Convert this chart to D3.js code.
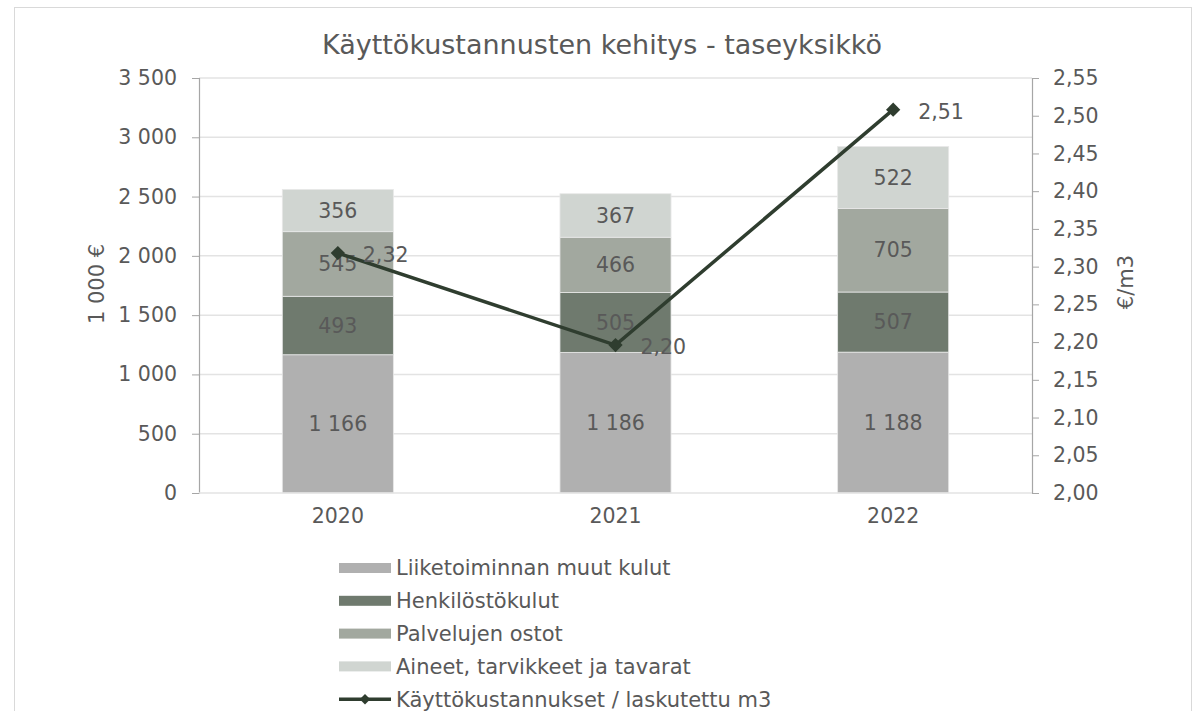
<!DOCTYPE html>
<html><head><meta charset="utf-8">
<script src="https://cdn.jsdelivr.net/npm/d3@7"></script>
<style>body{margin:0;background:#fff;} text{font-family:"DejaVu Sans",Verdana,sans-serif;fill:#595959;}</style>
</head><body>
<svg id="c" width="1201" height="711"></svg>
<script>
const years = ["2020","2021","2022"];
const seriesNames = ["Liiketoiminnan muut kulut","Henkilöstökulut","Palvelujen ostot","Aineet, tarvikkeet ja tavarat"];
const muutKulut = [1166,1186,1188];
const henkilosto = [493,505,507];
const palvelut = [545,466,705];
const aineet = [356,367,522];
const perM3 = [2.318,2.196,2.508];
const perM3Labels = ["2,32","2,20","2,51"];
const lineName = "Käyttökustannukset / laskutettu m3";
const leftTicks = [0,500,1000,1500,2000,2500,3000,3500];
const rightTicks = [2.00,2.05,2.10,2.15,2.20,2.25,2.30,2.35,2.40,2.45,2.50,2.55];
const colors = ["#b0b0b0","#6f7a6e","#a2a89f","#d0d5d1"];
const lineColor = "#2f3d2f";
const FONT = "DejaVu Sans, Verdana, sans-serif";

const svg = d3.select("#c");
svg.append("rect").attr("x",14.5).attr("y",7.5).attr("width",1177).attr("height",720)
  .attr("fill","#fff").attr("stroke","#d9d9d9");

const L=199, R=1032, T=78, B=493;
const x = d3.scaleBand().domain(years).range([L,R]).paddingInner(0.6).paddingOuter(0.3);
const y = d3.scaleLinear().domain([0,3500]).range([B,T]);
const y2 = d3.scaleLinear().domain([2.0,2.55]).range([B,T]);

// gridlines
svg.append("g").selectAll("line").data(leftTicks.slice(1)).join("line")
  .attr("x1",L).attr("x2",R).attr("y1",d=>y(d)).attr("y2",d=>y(d))
  .attr("stroke","#e3e3e3").attr("stroke-width",1.5);

// stacked bars
const rows = years.map((yr,i)=>({year:yr, s0:muutKulut[i], s1:henkilosto[i], s2:palvelut[i], s3:aineet[i]}));
const stack = d3.stack().keys(["s0","s1","s2","s3"])(rows);
stack.forEach((layer,k)=>{
  const g = svg.append("g");
  g.selectAll("rect").data(layer).join("rect")
    .attr("x",d=>x(d.data.year)).attr("width",x.bandwidth())
    .attr("y",d=>y(d[1])).attr("height",d=>y(d[0])-y(d[1]))
    .attr("fill",colors[k]).attr("stroke","#e8e8e8").attr("stroke-width",0.8);
  g.selectAll("text").data(layer).join("text")
    .attr("x",d=>x(d.data.year)+x.bandwidth()/2).attr("y",d=>(y(d[0])+y(d[1]))/2)
    .attr("text-anchor","middle").attr("dy","0.35em").attr("font-size",20.5)
    .attr("fill","#505050")
    .text(d=>d3.format(",")(d[1]-d[0]).replace(/,/g," "));
});

// axes
const yAxis = d3.axisLeft(y).tickValues(leftTicks).tickSize(7).tickPadding(15)
  .tickFormat(d=>d3.format(",")(d).replace(/,/g," "));
const gy = svg.append("g").attr("transform",`translate(${L},0)`).call(yAxis);
const y2Axis = d3.axisRight(y2).tickValues(rightTicks).tickSize(7).tickPadding(14)
  .tickFormat(d=>d3.format(".2f")(d).replace(".",","));
const gy2 = svg.append("g").attr("transform",`translate(${R},0)`).call(y2Axis);
[gy,gy2].forEach(g=>{
  g.select(".domain").attr("stroke","#a6a6a6").attr("stroke-width",1.2);
  g.selectAll(".tick line").attr("stroke","#a6a6a6");
  g.selectAll(".tick text").attr("font-size",20.5).attr("fill","#595959").style("font-family",FONT);
});
// x baseline
svg.append("line").attr("x1",L).attr("x2",R).attr("y1",B).attr("y2",B).attr("stroke","#e3e3e3").attr("stroke-width",1.5);

const xAxis = d3.axisBottom(x).tickSize(0).tickPadding(15);
const gx = svg.append("g").attr("transform",`translate(0,${B})`).call(xAxis);
gx.select(".domain").remove();
gx.selectAll(".tick text").attr("font-size",20.5).attr("fill","#595959").style("font-family",FONT);

// line
const line = d3.line().x((d,i)=>x(years[i])+x.bandwidth()/2).y(d=>y2(d));
svg.append("path").datum(perM3).attr("d",line).attr("fill","none")
  .attr("stroke",lineColor).attr("stroke-width",3.5);
svg.append("g").selectAll("path").data(perM3).join("path")
  .attr("transform",(d,i)=>`translate(${x(years[i])+x.bandwidth()/2},${y2(d)})`)
  .attr("d",d3.symbol(d3.symbolDiamond2,130)).attr("fill",lineColor);
svg.append("g").selectAll("text").data(perM3).join("text")
  .attr("x",(d,i)=>x(years[i])+x.bandwidth()/2+25).attr("y",d=>y2(d)+2)
  .attr("dy","0.35em").attr("font-size",20.5).attr("fill","#505050")
  .text((d,i)=>perM3Labels[i]);

// titles
svg.append("text").attr("x",602).attr("y",54).attr("text-anchor","middle")
  .attr("font-size",27).text("Käyttökustannusten kehitys - taseyksikkö");
svg.append("text").attr("transform","translate(104,284) rotate(-90)").attr("text-anchor","middle")
  .attr("font-size",21).text("1 000 €");
svg.append("text").attr("transform","translate(1133,282) rotate(-90)").attr("text-anchor","middle")
  .attr("font-size",21).text("€/m3");

// legend
const legY0 = 568, legDy = 32.8;
const leg = svg.append("g");
seriesNames.forEach((n,i)=>{
  leg.append("rect").attr("x",339).attr("y",legY0+i*legDy-5).attr("width",52).attr("height",10).attr("fill",colors[i]);
  leg.append("text").attr("x",396).attr("y",legY0+i*legDy).attr("dy","0.35em").attr("font-size",21).text(n);
});
const ly = legY0+4*legDy;
leg.append("line").attr("x1",339).attr("x2",391).attr("y1",ly).attr("y2",ly).attr("stroke",lineColor).attr("stroke-width",3.5);
leg.append("path").attr("transform",`translate(365,${ly})`).attr("d",d3.symbol(d3.symbolDiamond2,70)).attr("fill",lineColor);
leg.append("text").attr("x",396).attr("y",ly).attr("dy","0.35em").attr("font-size",21).text(lineName);
</script>
</body></html>
